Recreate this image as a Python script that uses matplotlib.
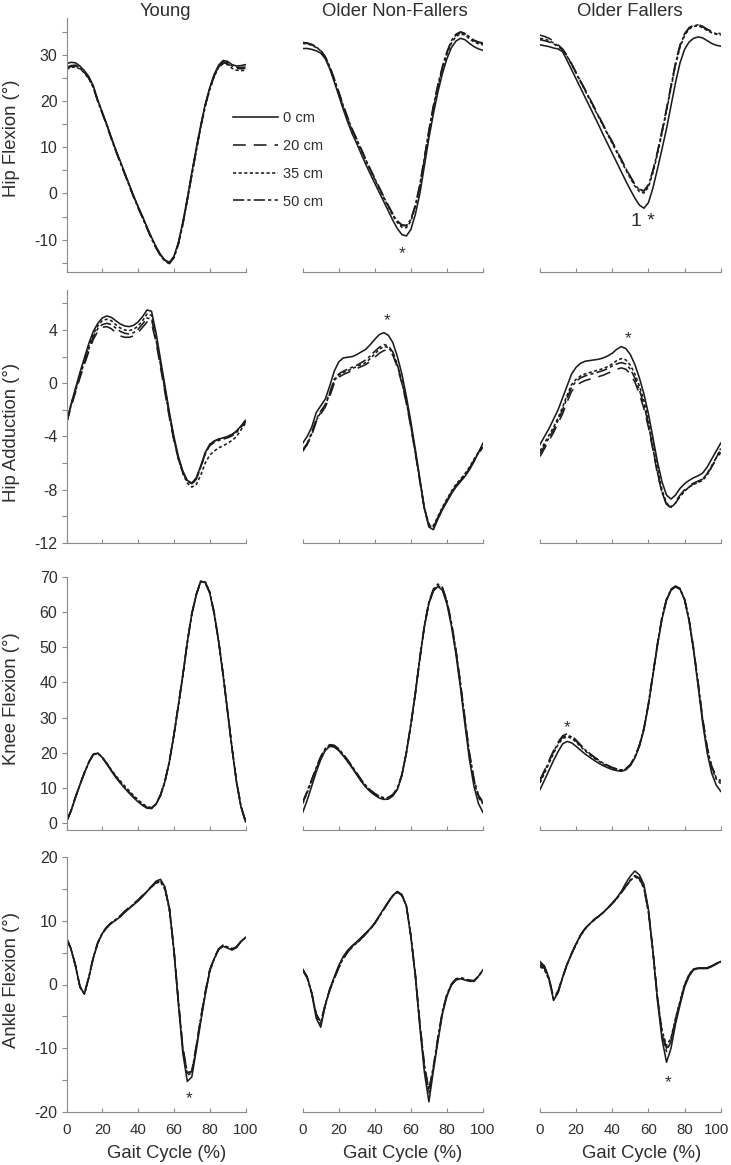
import matplotlib
matplotlib.use("Agg")
import matplotlib.pyplot as plt
import matplotlib.transforms as mtransforms

plt.rcParams["font.family"] = ["Liberation Sans", "DejaVu Sans"]

# gait cycle sample points (%)
gait = [0, 2.5, 5, 7.5, 10, 12.5, 15, 17.5, 20, 22.5, 25, 27.5, 30, 32.5, 35, 37.5, 40,
        42.5, 45, 47.5, 50, 52.5, 55, 57.5, 60, 62.5, 65, 67.5, 70, 72.5, 75, 77.5, 80,
        82.5, 85, 87.5, 90, 92.5, 95, 97.5, 100]

groups = ["Young", "Older Non-Fallers", "Older Fallers"]
heights = ["0 cm", "20 cm", "35 cm", "50 cm"]
joints = ["Hip Flexion (°)", "Hip Adduction (°)", "Knee Flexion (°)", "Ankle Flexion (°)"]

# ---- hip flexion ----
hf_young_0 = [28.1, 28.4, 28.3, 27.6, 26.6, 25.3, 23.3, 20.2, 17.6, 15.0, 12.2, 9.5, 7.0, 4.5, 2.0, -0.5, -2.8, -5.0, -7.3, -9.5, -11.5, -13.2, -14.4, -14.9, -13.6, -10.6, -6.2, -1.0, 4.5, 9.8, 14.8, 19.3, 22.9, 25.8, 27.8, 28.8, 28.6, 27.9, 27.6, 27.7, 27.9]
hf_young_20 = [27.3, 27.7, 27.8, 27.3, 26.3, 25.0, 23.0, 20.0, 17.4, 14.8, 12.0, 9.3, 6.8, 4.3, 1.8, -0.7, -3.0, -5.2, -7.5, -9.7, -11.7, -13.4, -14.6, -15.1, -13.8, -10.9, -6.5, -1.3, 4.2, 9.5, 14.5, 19.0, 22.6, 25.4, 27.4, 28.3, 28.1, 27.4, 27.1, 27.0, 27.1]
hf_young_35 = [26.9, 27.3, 27.4, 27.0, 26.1, 24.9, 23.0, 20.1, 17.5, 14.9, 12.1, 9.4, 6.9, 4.4, 1.9, -0.6, -2.9, -5.1, -7.4, -9.6, -11.6, -13.3, -14.5, -15.0, -13.9, -11.0, -6.7, -1.6, 3.8, 9.1, 14.2, 18.8, 22.4, 25.3, 27.3, 28.1, 27.9, 27.1, 26.7, 26.6, 26.7]
hf_young_50 = [27.1, 27.5, 27.6, 27.1, 26.2, 24.9, 22.9, 19.9, 17.3, 14.7, 11.9, 9.2, 6.7, 4.2, 1.7, -0.8, -3.1, -5.3, -7.6, -9.8, -11.8, -13.5, -14.7, -15.2, -13.9, -10.9, -6.4, -1.2, 4.3, 9.6, 14.6, 19.1, 22.7, 25.5, 27.5, 28.5, 28.3, 27.6, 27.3, 27.3, 27.4]

hf_onf_0 = [31.4, 31.4, 31.2, 30.9, 30.4, 29.2, 27.0, 24.2, 21.2, 18.2, 15.4, 12.9, 10.8, 8.5, 6.3, 4.2, 2.2, 0.2, -1.8, -3.8, -5.8, -7.6, -8.9, -9.2, -7.8, -4.5, 0.0, 6.0, 12.0, 17.3, 22.0, 26.0, 29.2, 31.6, 33.0, 33.6, 33.3, 32.5, 31.8, 31.3, 31.0]
hf_onf_20 = [32.7, 32.6, 32.3, 31.8, 31.0, 29.6, 27.5, 24.8, 22.0, 19.1, 16.4, 13.9, 11.8, 9.6, 7.4, 5.3, 3.3, 1.3, -0.7, -2.6, -4.4, -5.9, -6.9, -7.0, -5.7, -2.6, 1.8, 7.6, 13.5, 18.8, 23.4, 27.3, 30.5, 32.9, 34.3, 34.9, 34.6, 33.8, 33.1, 32.7, 32.5]
hf_onf_35 = [32.5, 32.4, 32.1, 31.6, 30.9, 29.5, 27.3, 24.6, 21.7, 18.8, 16.1, 13.6, 11.5, 9.3, 7.1, 5.0, 3.0, 1.0, -1.0, -2.9, -4.8, -6.3, -7.3, -7.4, -6.0, -2.9, 1.5, 7.3, 13.2, 18.5, 23.1, 27.0, 30.2, 32.6, 34.0, 34.6, 34.3, 33.5, 32.8, 32.4, 32.2]
hf_onf_50 = [32.6, 32.5, 32.2, 31.7, 31.0, 29.6, 27.5, 24.8, 21.9, 19.0, 16.3, 13.8, 11.7, 9.5, 7.3, 5.2, 3.2, 1.2, -0.8, -2.7, -4.6, -6.0, -6.8, -6.9, -5.6, -2.5, 2.0, 7.8, 13.7, 19.0, 23.6, 27.5, 30.7, 33.1, 34.5, 35.0, 34.7, 33.9, 33.2, 32.8, 32.6]

hf_of_0 = [32.2, 32.0, 31.8, 31.5, 31.3, 30.7, 28.8, 26.8, 24.8, 22.8, 20.8, 18.8, 16.8, 14.8, 12.7, 10.7, 8.7, 6.7, 4.7, 2.7, 0.8, -1.0, -2.5, -3.2, -2.0, 1.2, 5.3, 9.6, 14.0, 19.0, 24.0, 28.3, 31.2, 32.8, 33.6, 33.9, 33.7, 33.1, 32.5, 32.1, 31.9]
hf_of_20 = [34.3, 34.0, 33.6, 33.0, 32.2, 31.3, 29.9, 28.1, 26.2, 24.3, 22.5, 20.6, 18.7, 16.8, 14.9, 13.0, 11.2, 9.3, 7.4, 5.5, 3.7, 2.0, 0.9, 0.6, 1.9, 5.0, 9.0, 13.6, 18.3, 23.4, 28.3, 32.2, 34.6, 35.9, 36.5, 36.6, 36.2, 35.6, 35.1, 34.8, 34.6]
hf_of_35 = [33.6, 33.4, 33.1, 32.6, 32.0, 31.2, 29.7, 27.9, 26.0, 24.1, 22.2, 20.3, 18.4, 16.5, 14.6, 12.7, 10.8, 8.9, 7.0, 5.1, 3.3, 1.6, 0.4, 0.1, 1.4, 4.5, 8.5, 13.0, 17.8, 22.9, 27.8, 31.7, 34.2, 35.6, 36.2, 36.3, 35.9, 35.3, 34.8, 34.5, 34.3]
hf_of_50 = [33.3, 33.1, 32.8, 32.4, 31.8, 31.1, 29.8, 28.0, 26.1, 24.2, 22.4, 20.5, 18.6, 16.7, 14.8, 12.9, 11.1, 9.2, 7.3, 5.4, 3.6, 1.9, 0.8, 0.5, 1.8, 4.9, 8.9, 13.4, 18.1, 23.2, 28.1, 32.0, 34.5, 35.8, 36.4, 36.5, 36.1, 35.5, 35.0, 34.6, 34.3]

# ---- hip adduction ----
ha_young_0 = [-3.0, -1.6, -0.4, 0.8, 1.9, 3.0, 3.9, 4.5, 4.9, 5.05, 4.95, 4.7, 4.45, 4.3, 4.25, 4.35, 4.6, 5.0, 5.5, 5.4, 3.8, 1.8, -0.2, -2.2, -4.0, -5.5, -6.6, -7.3, -7.5, -7.1, -6.2, -5.2, -4.6, -4.35, -4.2, -4.1, -4.0, -3.85, -3.6, -3.2, -2.8]
ha_young_20 = [-3.0, -1.8, -0.7, 0.4, 1.4, 2.4, 3.3, 3.9, 4.2, 4.25, 4.1, 3.8, 3.55, 3.45, 3.45, 3.55, 3.8, 4.2, 4.6, 4.5, 3.1, 1.2, -0.7, -2.6, -4.3, -5.7, -6.7, -7.35, -7.6, -7.2, -6.3, -5.3, -4.6, -4.35, -4.2, -4.1, -4.0, -3.85, -3.6, -3.2, -2.8]
ha_young_35 = [-3.0, -1.6, -0.5, 0.6, 1.7, 2.8, 3.7, 4.3, 4.7, 4.8, 4.7, 4.4, 4.15, 4.0, 3.95, 4.05, 4.3, 4.7, 5.2, 5.1, 3.6, 1.6, -0.4, -2.4, -4.2, -5.7, -6.8, -7.5, -7.8, -7.6, -6.9, -6.0, -5.4, -5.1, -4.85, -4.7, -4.5, -4.3, -4.0, -3.5, -3.0]
ha_young_50 = [-3.0, -1.7, -0.6, 0.5, 1.6, 2.6, 3.5, 4.1, 4.4, 4.5, 4.4, 4.15, 3.9, 3.75, 3.7, 3.8, 4.05, 4.45, 4.9, 4.8, 3.3, 1.4, -0.5, -2.4, -4.2, -5.6, -6.7, -7.35, -7.55, -7.2, -6.3, -5.3, -4.7, -4.45, -4.3, -4.2, -4.1, -3.95, -3.7, -3.3, -2.9]

ha_onf_0 = [-4.5, -4.0, -3.3, -2.2, -1.7, -1.2, -0.2, 0.9, 1.6, 1.9, 1.95, 2.0, 2.15, 2.35, 2.55, 2.9, 3.3, 3.65, 3.8, 3.6, 3.05, 2.0, 0.7, -1.0, -2.9, -5.0, -7.2, -9.4, -10.8, -11.0, -10.2, -9.5, -8.9, -8.3, -7.8, -7.4, -7.0, -6.5, -5.9, -5.2, -4.5]
ha_onf_20 = [-5.1, -4.6, -3.9, -2.9, -2.3, -1.8, -1.0, 0.0, 0.45, 0.65, 0.8, 0.95, 1.1, 1.25, 1.4, 1.65, 1.95, 2.25, 2.45, 2.5, 2.1, 1.2, 0.0, -1.5, -3.3, -5.3, -7.4, -9.5, -10.7, -10.8, -10.1, -9.4, -8.8, -8.2, -7.7, -7.3, -6.9, -6.4, -5.8, -5.3, -4.8]
ha_onf_35 = [-5.1, -4.6, -3.8, -2.8, -2.2, -1.7, -0.8, 0.2, 0.6, 0.8, 0.95, 1.1, 1.25, 1.4, 1.55, 1.85, 2.2, 2.55, 2.75, 2.7, 2.25, 1.35, 0.1, -1.4, -3.2, -5.2, -7.3, -9.4, -10.6, -10.7, -10.0, -9.3, -8.7, -8.1, -7.6, -7.2, -6.8, -6.3, -5.7, -5.2, -4.7]
ha_onf_50 = [-5.0, -4.5, -3.7, -2.7, -2.1, -1.6, -0.7, 0.3, 0.7, 0.9, 1.05, 1.2, 1.35, 1.55, 1.75, 2.05, 2.4, 2.7, 2.9, 2.8, 2.35, 1.4, 0.15, -1.35, -3.2, -5.2, -7.3, -9.4, -10.6, -10.8, -10.1, -9.4, -8.8, -8.2, -7.7, -7.3, -6.9, -6.4, -5.8, -5.2, -4.6]

ha_of_0 = [-4.6, -4.0, -3.4, -2.7, -2.0, -1.1, -0.2, 0.7, 1.2, 1.5, 1.65, 1.7, 1.75, 1.8, 1.9, 2.05, 2.25, 2.55, 2.75, 2.6, 2.15, 1.4, 0.4, -0.8, -2.3, -4.1, -5.9, -7.4, -8.4, -8.7, -8.4, -7.9, -7.55, -7.3, -7.1, -6.95, -6.75, -6.3, -5.7, -5.1, -4.5]
ha_of_20 = [-5.5, -4.9, -4.3, -3.7, -3.0, -2.3, -1.4, -0.6, -0.2, 0.05, 0.2, 0.3, 0.4, 0.5, 0.6, 0.75, 0.9, 1.05, 1.15, 1.05, 0.7, 0.1, -0.8, -1.9, -3.3, -5.0, -6.8, -8.2, -9.1, -9.3, -8.9, -8.4, -8.0, -7.7, -7.5, -7.35, -7.2, -6.8, -6.3, -5.7, -5.2]
ha_of_35 = [-5.1, -4.5, -3.9, -3.3, -2.6, -1.8, -0.9, -0.1, 0.3, 0.55, 0.7, 0.8, 0.9, 1.0, 1.1, 1.25, 1.45, 1.7, 1.85, 1.75, 1.35, 0.7, -0.2, -1.3, -2.8, -4.6, -6.4, -8.0, -9.0, -9.3, -9.0, -8.5, -8.1, -7.8, -7.6, -7.45, -7.3, -6.9, -6.3, -5.6, -4.9]
ha_of_50 = [-5.3, -4.7, -4.1, -3.5, -2.8, -2.0, -1.1, -0.3, 0.15, 0.4, 0.55, 0.65, 0.75, 0.85, 0.95, 1.1, 1.3, 1.45, 1.55, 1.45, 1.05, 0.4, -0.5, -1.6, -3.1, -4.9, -6.7, -8.2, -9.1, -9.35, -9.0, -8.5, -8.1, -7.8, -7.55, -7.4, -7.2, -6.8, -6.2, -5.6, -5.0]

# ---- knee flexion ----
kf_young_0 = [0.3, 3.3, 7.2, 10.8, 14.2, 17.3, 19.5, 19.9, 18.6, 16.8, 14.8, 13.0, 11.4, 9.9, 8.5, 7.2, 6.0, 5.0, 4.2, 4.1, 5.3, 7.8, 11.8, 17.5, 25.0, 33.5, 42.0, 51.5, 59.5, 65.0, 68.8, 68.4, 65.5, 59.5, 51.5, 42.0, 31.5, 21.0, 11.5, 4.5, 0.3]
kf_young_20 = [0.5, 3.5, 7.4, 11.0, 14.4, 17.4, 19.6, 19.9, 18.7, 16.9, 15.0, 13.2, 11.6, 10.1, 8.7, 7.4, 6.2, 5.2, 4.4, 4.3, 5.5, 8.0, 12.0, 17.7, 25.2, 33.6, 42.2, 51.6, 59.6, 65.1, 68.9, 68.6, 65.7, 59.8, 51.8, 42.3, 31.8, 21.3, 11.8, 4.8, 0.6]
kf_young_35 = [0.4, 3.4, 7.3, 10.9, 14.3, 17.3, 19.4, 19.8, 18.7, 17.0, 15.2, 13.5, 12.0, 10.5, 9.2, 7.8, 6.6, 5.5, 4.6, 4.4, 5.4, 7.8, 11.7, 17.3, 24.8, 33.2, 41.8, 51.2, 59.3, 64.9, 68.8, 68.6, 65.8, 59.9, 51.9, 42.4, 31.9, 21.3, 11.7, 4.7, 0.5]
kf_young_50 = [0.5, 3.5, 7.3, 10.9, 14.3, 17.3, 19.5, 19.8, 18.6, 16.9, 15.0, 13.2, 11.6, 10.1, 8.7, 7.4, 6.2, 5.2, 4.3, 4.2, 5.4, 7.9, 11.9, 17.6, 25.1, 33.5, 42.1, 51.5, 59.4, 64.9, 68.7, 68.4, 65.5, 59.6, 51.6, 42.1, 31.6, 21.1, 11.6, 4.6, 0.4]

kf_onf_0 = [3.0, 6.5, 10.5, 14.5, 18.0, 20.6, 21.8, 21.6, 20.6, 19.1, 17.4, 15.6, 13.7, 11.8, 10.2, 8.9, 7.9, 7.1, 6.7, 6.8, 7.7, 9.5, 13.5, 20.0, 28.0, 37.0, 47.0, 56.0, 62.5, 66.0, 67.3, 66.2, 62.3, 56.0, 48.0, 38.5, 28.0, 18.0, 10.4, 5.5, 3.0]
kf_onf_20 = [5.7, 8.8, 12.2, 15.6, 18.8, 21.1, 22.2, 22.0, 21.0, 19.5, 17.8, 16.0, 14.1, 12.2, 10.6, 9.3, 8.3, 7.5, 7.1, 7.2, 8.0, 9.8, 13.6, 19.9, 27.8, 36.8, 46.8, 55.9, 62.6, 66.3, 67.8, 66.9, 63.1, 56.9, 49.0, 39.6, 29.3, 19.6, 12.2, 7.6, 5.7]
kf_onf_35 = [5.5, 8.6, 12.0, 15.4, 18.6, 20.9, 22.0, 21.8, 20.8, 19.3, 17.6, 15.8, 13.9, 12.0, 10.4, 9.1, 8.1, 7.3, 6.9, 7.0, 7.9, 9.7, 13.6, 20.0, 28.0, 37.0, 47.0, 56.0, 62.7, 66.3, 67.6, 66.6, 62.8, 56.6, 48.7, 39.3, 29.0, 19.2, 11.8, 7.2, 5.4]
kf_onf_50 = [6.0, 9.1, 12.4, 15.8, 18.9, 21.2, 22.3, 22.1, 21.1, 19.6, 17.9, 16.1, 14.2, 12.3, 10.7, 9.4, 8.4, 7.6, 7.2, 7.3, 8.1, 9.9, 13.8, 20.2, 28.2, 37.2, 47.2, 56.3, 63.0, 66.6, 68.0, 67.0, 63.2, 57.0, 49.2, 39.9, 29.6, 19.9, 12.5, 7.9, 6.0]

kf_of_0 = [9.5, 12.2, 15.0, 17.8, 20.3, 22.5, 23.2, 22.8, 21.8, 20.7, 19.6, 18.7, 17.8, 17.0, 16.3, 15.7, 15.2, 14.9, 14.7, 15.1, 16.3, 18.5, 21.8, 26.5, 33.5, 42.0, 50.5, 58.0, 63.3, 66.2, 67.2, 66.5, 63.5, 57.5, 49.0, 39.0, 28.5, 20.0, 14.2, 10.8, 9.0]
kf_of_20 = [12.3, 15.0, 17.8, 20.6, 23.0, 24.8, 25.4, 24.8, 23.6, 22.2, 20.9, 19.8, 18.8, 17.9, 17.1, 16.4, 15.8, 15.4, 15.2, 15.5, 16.6, 18.8, 22.1, 26.9, 33.9, 42.5, 51.0, 58.5, 63.7, 66.5, 67.4, 66.7, 63.7, 57.9, 49.6, 39.9, 29.8, 21.6, 16.2, 13.3, 12.0]
kf_of_35 = [11.4, 14.2, 17.0, 19.8, 22.3, 24.0, 24.6, 24.1, 23.0, 21.7, 20.5, 19.4, 18.4, 17.6, 16.8, 16.1, 15.6, 15.2, 15.0, 15.3, 16.5, 18.7, 22.0, 26.8, 33.8, 42.3, 50.8, 58.3, 63.5, 66.4, 67.3, 66.6, 63.6, 57.8, 49.4, 39.6, 29.4, 21.1, 15.6, 12.5, 11.2]
kf_of_50 = [12.0, 14.7, 17.5, 20.3, 22.7, 24.4, 25.0, 24.5, 23.3, 22.0, 20.8, 19.7, 18.7, 17.8, 17.0, 16.3, 15.7, 15.3, 15.1, 15.4, 16.6, 18.8, 22.1, 26.9, 33.9, 42.4, 50.9, 58.4, 63.6, 66.5, 67.4, 66.7, 63.7, 57.9, 49.5, 39.8, 29.6, 21.4, 15.9, 12.9, 11.8]

# ---- ankle flexion ----
af_young_0 = [7.3, 5.6, 3.0, -0.4, -1.5, 1.1, 4.2, 6.5, 8.0, 8.9, 9.6, 10.1, 10.6, 11.3, 11.9, 12.5, 13.1, 13.8, 14.6, 15.4, 16.2, 16.5, 15.3, 12.0, 5.4, -3.0, -10.8, -15.2, -14.5, -10.3, -5.8, -1.6, 2.1, 4.0, 5.5, 6.0, 5.7, 5.4, 5.8, 6.7, 7.4]
af_young_20 = [7.3, 5.6, 3.0, -0.3, -1.4, 1.2, 4.3, 6.6, 8.1, 9.0, 9.7, 10.2, 10.8, 11.5, 12.1, 12.7, 13.3, 14.0, 14.7, 15.4, 16.0, 16.2, 15.0, 11.8, 5.5, -2.6, -10.0, -13.9, -13.6, -9.6, -5.2, -1.2, 2.3, 4.2, 5.6, 6.2, 5.9, 5.6, 5.9, 6.8, 7.4]
af_young_35 = [7.2, 5.5, 2.9, -0.4, -1.5, 1.1, 4.2, 6.5, 8.0, 8.9, 9.6, 10.1, 10.7, 11.4, 12.0, 12.6, 13.2, 13.9, 14.6, 15.3, 15.9, 16.1, 14.9, 11.6, 5.2, -2.8, -10.2, -14.2, -13.9, -9.9, -5.5, -1.5, 2.0, 4.0, 5.5, 6.1, 5.9, 5.6, 5.9, 6.8, 7.3]
af_young_50 = [7.3, 5.6, 3.0, -0.3, -1.4, 1.2, 4.3, 6.6, 8.1, 9.0, 9.7, 10.2, 10.7, 11.4, 12.0, 12.6, 13.2, 13.9, 14.6, 15.3, 16.0, 16.3, 15.1, 11.9, 5.6, -2.5, -9.9, -13.8, -13.7, -9.7, -5.3, -1.3, 2.2, 4.1, 5.5, 6.1, 5.8, 5.5, 5.9, 6.8, 7.4]

af_onf_0 = [2.4, 1.2, -1.4, -5.3, -6.7, -3.3, -0.7, 1.2, 3.0, 4.4, 5.4, 6.1, 6.7, 7.4, 8.1, 8.8, 9.7, 10.8, 11.9, 13.0, 14.0, 14.6, 14.1, 12.4, 7.5, 1.2, -6.7, -13.8, -18.4, -13.5, -8.9, -4.6, -1.8, -0.1, 0.7, 0.9, 0.7, 0.5, 0.5, 1.3, 2.3]
af_onf_20 = [2.3, 1.1, -1.3, -4.6, -5.9, -3.2, -0.9, 0.9, 2.6, 4.0, 5.1, 5.9, 6.5, 7.2, 7.9, 8.7, 9.6, 10.7, 11.8, 12.9, 13.9, 14.5, 14.0, 12.3, 7.6, 1.5, -6.2, -12.8, -16.7, -13.0, -8.4, -4.3, -1.6, 0.0, 0.8, 1.0, 0.8, 0.6, 0.6, 1.3, 2.3]
af_onf_35 = [2.4, 1.2, -1.3, -4.8, -6.2, -3.3, -0.9, 0.9, 2.7, 4.1, 5.2, 5.9, 6.5, 7.2, 7.9, 8.7, 9.6, 10.7, 11.8, 12.9, 13.9, 14.5, 14.0, 12.3, 7.5, 1.3, -6.4, -13.1, -17.0, -13.2, -8.6, -4.4, -1.7, 0.0, 0.8, 1.0, 0.8, 0.6, 0.5, 1.3, 2.3]
af_onf_50 = [2.2, 1.0, -1.4, -4.7, -6.0, -3.1, -0.8, 1.0, 2.8, 4.2, 5.2, 6.0, 6.6, 7.3, 8.0, 8.7, 9.6, 10.7, 11.8, 12.9, 13.9, 14.5, 14.0, 12.3, 7.7, 1.6, -6.1, -12.6, -16.5, -12.8, -8.3, -4.2, -1.5, 0.1, 0.9, 1.1, 0.9, 0.7, 0.6, 1.3, 2.2]

af_of_0 = [3.6, 2.9, 1.0, -2.5, -1.3, 1.1, 3.2, 4.9, 6.4, 7.8, 8.8, 9.5, 10.2, 10.7, 11.3, 12.0, 12.8, 13.6, 14.6, 15.9, 17.0, 17.8, 17.2, 15.7, 11.8, 5.2, -2.5, -8.5, -12.2, -10.0, -6.2, -3.2, -0.4, 1.3, 2.3, 2.5, 2.5, 2.5, 2.8, 3.2, 3.6]
af_of_20 = [3.3, 2.7, 1.0, -2.0, -1.0, 1.2, 3.2, 4.9, 6.4, 7.8, 8.8, 9.5, 10.2, 10.7, 11.3, 12.0, 12.7, 13.5, 14.4, 15.4, 16.3, 17.0, 16.6, 15.2, 11.5, 5.3, -1.9, -7.4, -10.0, -8.6, -5.4, -2.7, -0.1, 1.5, 2.4, 2.6, 2.6, 2.6, 2.9, 3.3, 3.6]
af_of_35 = [2.8, 2.3, 0.7, -2.2, -1.2, 1.1, 3.1, 4.8, 6.3, 7.7, 8.7, 9.5, 10.1, 10.7, 11.3, 12.0, 12.7, 13.5, 14.4, 15.4, 16.3, 16.9, 16.5, 15.1, 11.3, 5.0, -2.1, -7.2, -9.6, -8.4, -5.3, -2.6, 0.0, 1.6, 2.4, 2.6, 2.6, 2.6, 2.9, 3.3, 3.5]
af_of_50 = [3.0, 2.5, 0.8, -2.3, -1.2, 1.1, 3.1, 4.8, 6.3, 7.7, 8.8, 9.5, 10.2, 10.7, 11.3, 12.0, 12.7, 13.5, 14.4, 15.4, 16.4, 17.1, 16.7, 15.3, 11.6, 5.2, -2.2, -7.8, -10.5, -8.9, -5.6, -2.8, -0.1, 1.5, 2.4, 2.6, 2.6, 2.6, 2.9, 3.3, 3.6]

panels = [
    [(hf_young_0, hf_young_20, hf_young_35, hf_young_50),
     (hf_onf_0, hf_onf_20, hf_onf_35, hf_onf_50),
     (hf_of_0, hf_of_20, hf_of_35, hf_of_50)],
    [(ha_young_0, ha_young_20, ha_young_35, ha_young_50),
     (ha_onf_0, ha_onf_20, ha_onf_35, ha_onf_50),
     (ha_of_0, ha_of_20, ha_of_35, ha_of_50)],
    [(kf_young_0, kf_young_20, kf_young_35, kf_young_50),
     (kf_onf_0, kf_onf_20, kf_onf_35, kf_onf_50),
     (kf_of_0, kf_of_20, kf_of_35, kf_of_50)],
    [(af_young_0, af_young_20, af_young_35, af_young_50),
     (af_onf_0, af_onf_20, af_onf_35, af_onf_50),
     (af_of_0, af_of_20, af_of_35, af_of_50)],
]

yticks = [
    [-15, -10, -5, 0, 5, 10, 15, 20, 25, 30, 35],
    [-12, -10, -8, -6, -4, -2, 0, 2, 4, 6],
    [0, 10, 20, 30, 40, 50, 60, 70],
    [-20, -15, -10, -5, 0, 5, 10, 15, 20],
]
ylabels_shown = [
    [-10, 0, 10, 20, 30],
    [-12, -8, -4, 0, 4],
    [0, 10, 20, 30, 40, 50, 60, 70],
    [-20, -10, 0, 10, 20],
]
xticks = [0, 20, 40, 60, 80, 100]

# significance marks: (row, col, x, y, text)
marks = [
    (0, 1, 54.9, -11.8, "*"),
    (0, 2, 57.0, -5.7, "1 *"),
    (1, 1, 46.6, 5.1, "*"),
    (1, 2, 48.7, 3.8, "*"),
    (2, 2, 15.0, 28.8, "*"),
    (3, 0, 68.4, -17.0, "*"),
    (3, 2, 70.7, -14.5, "*"),
]

# layout (pixels in a 731 x 1165 figure)
W, H = 731, 1165
col_px = [(66.5, 245.5), (302.7, 483.0), (540.0, 720.7)]
row_px = [(18, 272), (290, 543), (577, 830), (857, 1112)]
ylims = [(-17, 38), (-12, 7), (-2, 70), (-20, 20)]
title_x = [165, 395, 630]
xlabel_x = [167, 403, 642]
ylabel_y = [138, 432, 699, 980]

styles = ["-", (0, (8, 5)), (0, (2, 1.5)), (0, (7, 2, 2, 2))]
line_col = "#1c1c1c"
axis_col = "#8a8a8a"
text_col = "#2e2e2e"

fig = plt.figure(figsize=(W / 100, H / 100), dpi=100)

axes = []
for r in range(4):
    row_axes = []
    for c in range(3):
        x0, x1 = col_px[c]
        t, b = row_px[r]
        ax = fig.add_axes([x0 / W, 1 - b / H, (x1 - x0) / W, (b - t) / H])
        for series, ls in zip(panels[r][c], styles):
            ax.plot(gait, series, color=line_col, lw=1.15, linestyle=ls)
        ax.set_xlim(0, 100)
        ax.set_ylim(*ylims[r])
        ax.spines["top"].set_visible(False)
        ax.spines["right"].set_visible(False)
        ax.spines["bottom"].set_color(axis_col)
        ax.spines["left"].set_color(axis_col)
        ax.set_xticks(xticks)
        ax.tick_params(axis="x", direction="in", length=3, color=axis_col,
                       labelsize=10.8, labelcolor=text_col, pad=8)
        if r < 3:
            ax.set_xticklabels([])
        if c == 0:
            ax.set_yticks(yticks[r])
            ax.set_yticklabels([str(v) if v in ylabels_shown[r] else "" for v in yticks[r]])
            ax.tick_params(axis="y", direction="out", length=3.5, color=axis_col,
                           labelsize=11.5, labelcolor=text_col, pad=3)
        else:
            ax.spines["left"].set_visible(False)
            ax.set_yticks([])
        ax.patch.set_alpha(0)
        row_axes.append(ax)
    axes.append(row_axes)

# keep the last "100" label inside the figure edge
last = axes[3][2].get_xticklabels()[-1]
last.set_transform(last.get_transform() +
                   mtransforms.ScaledTranslation(-4 / 100, 0, fig.dpi_scale_trans))

for r, c, mx, my, txt in marks:
    fs = 14 if txt != "*" else 12.5
    dy = -0.1 * fs if txt != "*" else -0.33 * fs
    axes[r][c].annotate(txt, (mx, my), xytext=(0, dy), textcoords="offset points",
                        ha="center", va="center", fontsize=fs, color=text_col)

for c in range(3):
    fig.text(title_x[c] / W, 1 - 12 / H, groups[c], ha="center", va="center",
             fontsize=13.3, color=text_col)
    fig.text(xlabel_x[c] / W, 1 - 1153 / H, "Gait Cycle (%)", ha="center", va="center",
             fontsize=13.3, color=text_col)

for r in range(4):
    fig.text(12 / W, 1 - ylabel_y[r] / H, joints[r], ha="center", va="center",
             rotation=90, fontsize=13.3, color=text_col)

handles = axes[0][1].get_lines()
fig.legend(handles, heights, loc="upper left", bbox_to_anchor=(233 / W, 1 - 111 / H),
           frameon=False, fontsize=10.5, handlelength=3.1, handletextpad=0.3,
           labelspacing=0.95, borderpad=0, borderaxespad=0, labelcolor=text_col)

fig.savefig("out.png", dpi=100)
